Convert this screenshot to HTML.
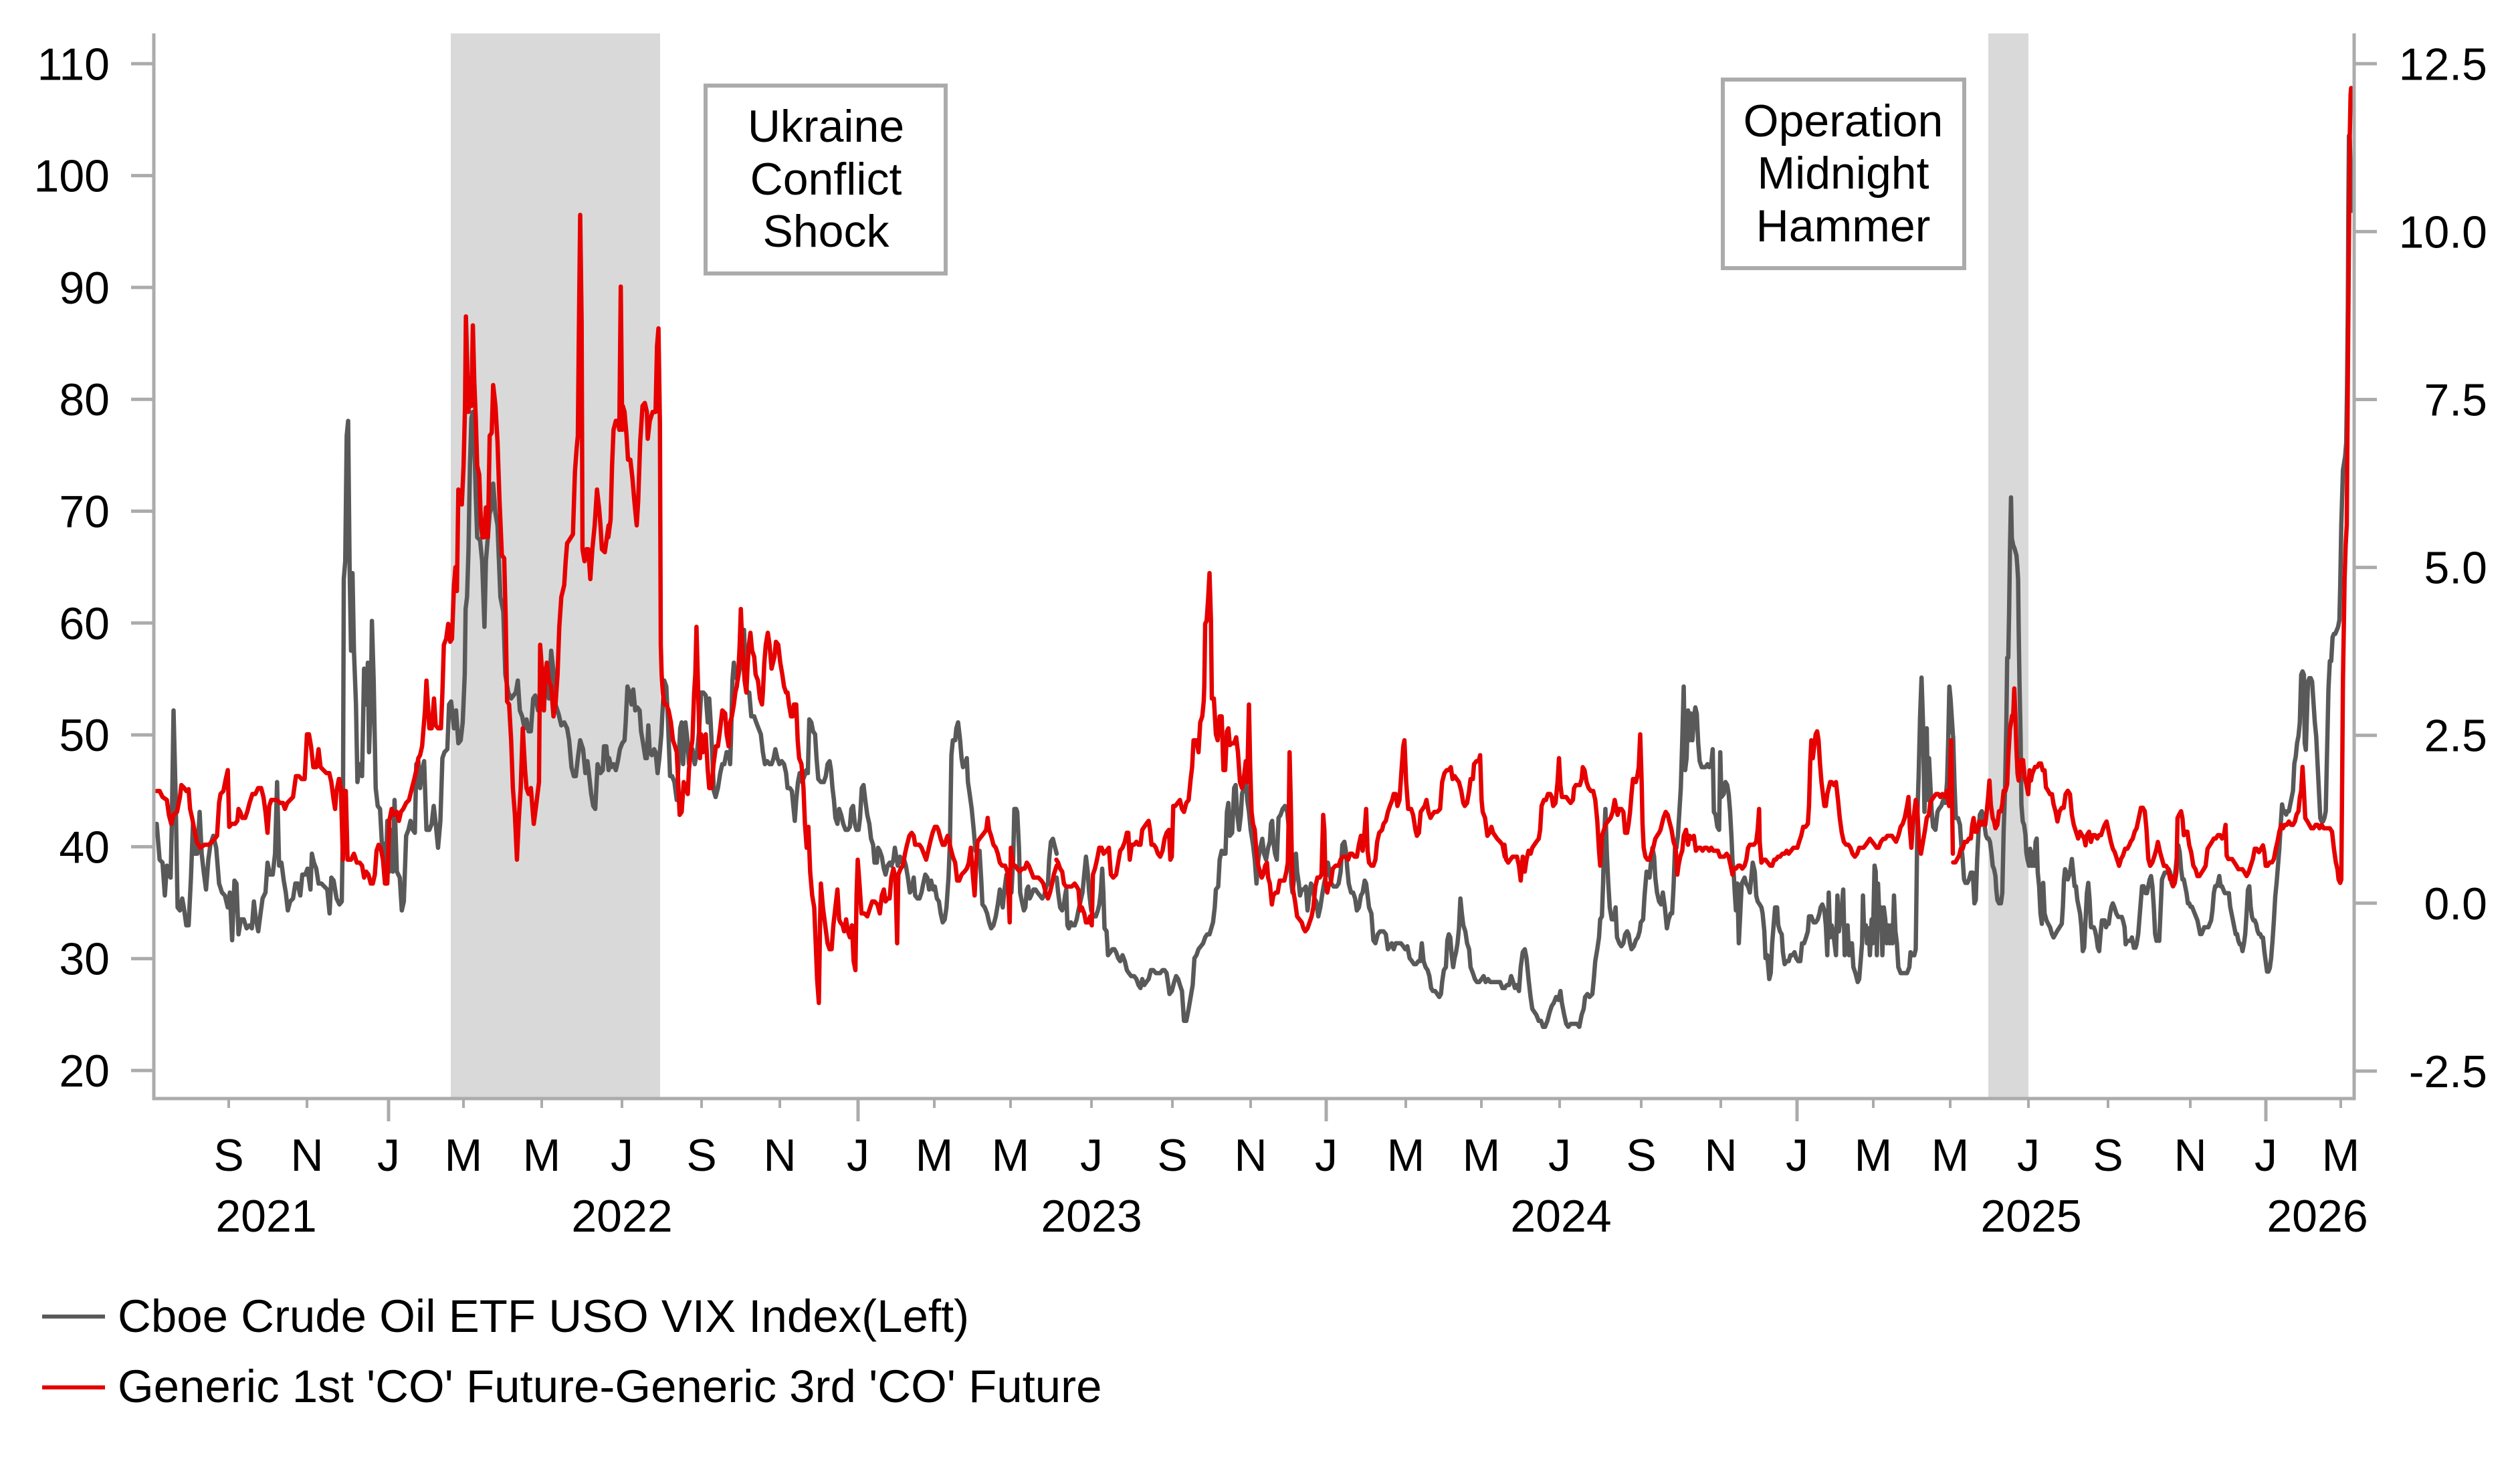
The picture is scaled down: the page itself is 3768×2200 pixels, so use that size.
<!DOCTYPE html>
<html>
<head>
<meta charset="utf-8">
<style>
html,body{margin:0;padding:0;background:#fff;}
svg{display:block;}
text{font-family:"Liberation Sans",Arial,sans-serif;fill:#000;}
</style>
</head>
<body>
<svg width="3768" height="2200" viewBox="0 0 3768 2200" xmlns="http://www.w3.org/2000/svg">
<rect x="0" y="0" width="3768" height="2200" fill="#fff"/>
<!-- shaded regions -->
<rect x="674" y="50" width="313" height="1593" fill="#d9d9d9"/>
<rect x="2973" y="50" width="60" height="1593" fill="#d9d9d9"/>

<g fill="none" stroke-linejoin="round" stroke-linecap="round">
<!-- GRAY SERIES -->
<g stroke="#595959">
<polyline vector-effect="non-scaling-stroke" stroke-width="6.5" transform="translate(230,250) scale(0.43367,0.89286)" points="10,1100 20,1160 30,1165 38,1220 45,1170 52,1185 58,1190 62,1100 68,910 75,1050 82,1240 90,1245 98,1225 105,1245 112,1270 120,1270 128,1190 135,1100 140,1150 150,1150 158,1080 165,1150 172,1180 180,1210 188,1160 195,1135 205,1120 215,1140 225,1200 235,1215 245,1220 255,1240 262,1215 270,1295 278,1195 285,1200 292,1285 300,1260 310,1260 320,1275 330,1270 338,1275 345,1230 352,1260 360,1280 368,1250 375,1225 385,1215 392,1165 400,1185 410,1185 418,1150 425,1030 432,1170 440,1165 448,1195 455,1215 462,1245 470,1230 480,1225 488,1200 496,1200 505,1220 512,1185 522,1185 530,1175 540,1210 545,1150 552,1165 560,1175 568,1200 578,1200 588,1205 598,1210 606,1250 612,1190 620,1195 630,1225 640,1235 648,1230 652,1100 655,690 660,660 665,450 670,425 675,670 680,810 685,680 690,810 697,900 702,1030 710,1000 718,1020 725,840 732,900 738,830 742,980 748,900 752,760 758,860 765,1040 772,1070 780,1075 786,1130 792,1135 800,1175 805,1095 812,1180 818,1110 824,1180 830,1060 838,1180 848,1190 855,1245 862,1230 870,1120 878,1110 885,1095 893,1110 900,1115 905,1000 912,995 918,1040 925,1010 932,995 940,1110 950,1110 958,1100 965,1070 972,1100 980,1140 988,1095 995,990 1002,980 1012,975 1018,900 1025,895 1035,940 1042,910 1050,965 1058,960 1065,930 1072,850 1075,740 1080,720 1085,640 1090,500 1095,420 1100,410 1105,460 1110,550 1115,620 1125,625 1132,660 1140,770 1145,660 1150,630 1158,580 1165,570 1170,530 1178,580 1185,600 1195,720 1205,745 1212,850 1222,880 1232,890 1240,885 1248,880 1255,860 1262,910 1270,920 1278,940 1285,925 1292,945 1300,945 1308,890 1315,885 1325,910 1335,900 1345,880 1355,865 1362,890 1370,810 1378,845 1385,900 1395,915 1405,935 1415,930 1425,940 1432,960 1440,1005 1448,1020 1455,1020 1462,990 1470,960 1480,975 1488,1015 1495,995 1500,1015 1508,1050 1515,1070 1522,1075 1530,1000 1540,1015 1548,1010 1552,970 1560,970 1568,1010"/>
<polyline vector-effect="non-scaling-stroke" stroke-width="6.5" transform="translate(900,250) scale(0.43367,0.89286)" points="25,990 32,1005 40,1000 48,1010 55,995 62,975 70,965 78,960 82,930 88,870 95,880 102,900 108,875 115,910 122,905 130,910 135,945 142,965 150,990 155,990 160,935 165,980 172,985 180,975 185,980 192,1015 198,990 205,950 210,900 215,860 222,870 228,930 235,1020 242,1020 250,1030 258,1060 265,990 270,940 275,930 280,1000 288,930 295,960 300,1000 305,975 312,975 320,1000 328,980 335,945 342,880 350,880 358,885 365,930 370,890 375,930 380,980 386,1045 392,1055 400,1040 408,1015 415,1000 422,1000 430,980 438,980 442,1000 445,960 450,860 455,830 460,850 468,860 475,840 480,820 485,810 490,775 495,840 500,880 508,880 515,920 525,920 532,930 540,940 548,950 555,980 562,1000 570,995 578,1000 585,1000 592,990 598,975 605,990 612,1000 620,995 628,1000 635,1015 640,1040 648,1040 655,1045 660,1070 665,1095 670,1060 676,1030 682,1015 690,1030 698,1020 705,1010 710,1015 715,925 722,930 728,945 735,950 740,990 746,1025 755,1030 765,1030 772,1020 778,1000 785,995 790,1010 795,1040 800,1060 805,1090 812,1100 818,1075 825,1085 832,1100 840,1110 848,1110 855,1105 860,1075 866,1070 872,1100 878,1110 885,1110 890,1090 896,1040 902,1035 908,1060 915,1085 922,1100 928,1125 935,1135 940,1165 948,1165 952,1140 958,1145 965,1155 972,1175 978,1185 985,1170 992,1165 998,1170 1005,1160 1010,1140 1015,1155 1020,1170 1028,1155 1035,1165 1042,1160 1048,1170 1055,1190 1062,1215 1068,1210 1075,1190 1080,1220 1088,1225 1095,1225 1102,1215 1108,1200 1115,1185 1122,1190 1128,1210 1135,1195 1142,1210 1148,1205 1155,1225 1162,1230 1168,1250 1175,1265 1182,1260 1188,1240 1195,1190 1200,1130 1205,985 1210,960 1218,960 1222,940 1228,930 1235,960 1240,990 1245,1005 1252,1000 1258,990 1262,1030 1268,1050 1275,1075 1282,1110 1288,1145 1295,1150 1302,1145 1308,1195 1312,1235 1320,1240 1328,1250 1335,1265 1342,1275 1350,1270 1358,1255 1365,1235 1372,1210 1378,1230 1382,1240 1388,1210 1395,1185 1402,1215 1408,1200 1412,1215 1418,1160 1422,1075 1428,1075 1432,1080 1438,1140 1442,1215 1448,1230 1455,1245 1460,1240 1465,1210 1470,1205 1475,1225 1480,1220 1488,1210 1495,1210 1502,1215 1510,1220 1518,1225 1525,1220 1532,1205 1538,1200 1542,1160 1548,1130 1555,1125 1560,1135 1568,1150"/>
<polyline vector-effect="non-scaling-stroke" stroke-width="6.5" transform="translate(1570,250) scale(0.43367,0.89286)" points="23,1190 28,1215 35,1240 42,1245 48,1235 52,1220 56,1210 60,1270 65,1275 72,1265 78,1270 85,1270 92,1260 98,1245 105,1230 112,1215 118,1185 124,1155 130,1180 135,1215 142,1245 150,1255 158,1255 165,1245 170,1235 175,1215 180,1175 184,1215 188,1275 195,1280 200,1320 208,1315 215,1310 222,1310 228,1315 235,1325 242,1330 250,1320 258,1330 265,1345 272,1350 280,1355 290,1355 298,1360 305,1370 312,1375 318,1360 325,1370 332,1365 340,1360 348,1345 356,1345 365,1350 372,1350 380,1350 388,1345 395,1345 402,1350 408,1370 412,1385 420,1380 428,1365 435,1355 442,1360 448,1370 455,1380 462,1430 470,1430 478,1410 485,1390 492,1370 498,1325 505,1320 512,1310 520,1305 528,1300 535,1290 542,1285 550,1285 556,1275 562,1265 568,1240 572,1210 580,1205 585,1160 592,1145 598,1150 605,1150 610,1080 615,1065 620,1120 628,1115 635,1040 640,1035 645,1080 652,1110 658,1085 662,1050 668,1040 675,1020 680,1060 686,1080 692,1110 700,1135 706,1160 712,1200 718,1160 725,1140 732,1125 738,1150 745,1160 752,1140 758,1130 762,1100 766,1095 770,1130 776,1150 782,1160 788,1090 795,1085 802,1075 810,1070 818,1080 824,1110 828,1150 832,1200 836,1215 842,1190 848,1150 852,1180 858,1200 862,1220 868,1210 875,1210 882,1205 888,1245 895,1215 900,1200 905,1205 912,1225 918,1230 925,1255 932,1240 938,1220 945,1200 952,1185 958,1165 965,1185 970,1200 978,1205 988,1205 995,1200 1002,1180 1008,1135 1015,1130 1020,1145 1025,1175 1030,1200 1038,1215 1045,1215 1052,1225 1058,1245 1065,1240 1072,1220 1078,1215 1085,1195 1090,1200 1095,1220 1100,1240 1108,1250 1115,1295 1122,1300 1130,1285 1138,1280 1150,1280 1158,1285 1165,1310 1172,1305 1178,1300 1185,1310 1192,1300 1200,1300 1210,1300 1218,1305 1225,1310 1232,1305 1240,1325 1248,1330 1255,1335 1262,1335 1270,1330 1276,1330 1282,1300 1288,1330 1295,1340 1302,1345 1308,1355 1314,1375 1320,1380 1328,1380 1335,1385 1342,1390 1348,1385 1352,1365 1358,1345 1365,1340 1370,1295 1375,1285 1380,1290 1385,1320 1390,1340 1395,1325 1400,1315 1405,1300 1410,1275 1415,1225 1420,1250 1425,1270 1432,1280 1438,1300 1445,1310 1450,1340 1458,1350 1465,1360 1472,1365 1480,1365 1488,1360 1495,1355 1502,1365 1510,1360 1518,1365 1525,1365 1535,1365 1545,1365 1552,1365 1560,1375 1568,1375"/>
<polyline vector-effect="non-scaling-stroke" stroke-width="6.5" transform="translate(2240,250) scale(0.43367,0.89286)" points="22,1375 30,1370 38,1370 45,1355 52,1365 58,1375 65,1370 72,1380 78,1340 85,1315 92,1310 98,1325 105,1360 112,1390 118,1410 125,1415 132,1420 140,1430 148,1430 155,1440 162,1440 170,1430 178,1415 185,1405 192,1400 200,1390 208,1395 215,1380 220,1400 228,1420 235,1435 242,1440 250,1435 258,1435 265,1435 272,1435 280,1440 288,1420 295,1410 300,1390 308,1385 315,1390 325,1385 330,1360 335,1330 342,1310 348,1290 352,1260 358,1255 362,1200 366,1120 370,1075 375,1150 380,1200 385,1240 392,1260 400,1260 405,1240 410,1290 418,1300 425,1305 432,1300 438,1285 445,1280 450,1285 455,1300 460,1310 468,1305 475,1295 482,1290 488,1280 492,1265 500,1260 505,1220 512,1180 518,1185 522,1190 528,1160 532,1140 538,1155 542,1190 548,1215 555,1230 562,1235 568,1215 575,1240 582,1275 588,1260 595,1250 600,1250 605,1205 610,1140 615,1140 620,1120 625,1080 630,1040 635,960 640,870 645,1010 650,990 655,910 660,960 665,915 670,960 675,925 680,905 685,915 690,965 695,995 702,1005 708,1005 715,1005 722,1000 728,1005 735,1000 740,975 744,1080 750,1085 756,1105 762,1110 766,980 770,1055 778,1050 784,1030 790,1035 795,1050 800,1080 805,1125 808,1160 812,1180 816,1215 820,1245 825,1200 830,1300 835,1250 840,1200 845,1195 850,1190 855,1200 862,1205 868,1215 872,1195 878,1165 885,1180 890,1220 895,1230 902,1235 908,1240 912,1250 918,1280 922,1325 928,1320 935,1360 940,1350 945,1300 950,1270 955,1240 962,1240 966,1270 972,1280 978,1285 982,1315 988,1335 995,1330 1002,1330 1008,1320 1015,1320 1022,1315 1028,1325 1035,1330 1042,1330 1048,1300 1055,1300 1062,1290 1068,1280 1072,1255 1080,1255 1088,1265 1095,1265 1102,1260 1108,1250 1112,1240 1118,1235 1125,1245 1130,1270 1135,1320 1140,1215 1145,1290 1150,1270 1155,1280 1160,1300 1165,1320 1170,1220 1175,1280 1180,1260 1185,1240 1190,1210 1195,1320 1200,1290 1205,1270 1210,1320 1215,1300 1220,1300 1225,1340 1232,1350 1240,1365 1245,1360 1250,1330 1255,1300 1258,1220 1262,1280 1268,1270 1272,1300 1278,1275 1282,1320 1288,1260 1292,1300 1298,1170 1302,1180 1306,1320 1310,1200 1315,1260 1320,1240 1325,1320 1330,1240 1335,1260 1340,1300 1345,1270 1350,1300 1355,1270 1360,1300 1365,1220 1370,1280 1375,1300 1380,1340 1388,1350 1395,1350 1402,1350 1410,1350 1418,1340 1422,1315 1428,1320 1435,1320 1440,1310 1443,1200 1446,1080 1450,1020 1455,920 1460,855 1465,930 1470,1080 1475,1000 1478,940 1482,1060 1486,990 1490,1030 1495,1080 1500,1105 1508,1110 1515,1080 1520,1075 1528,1070 1535,1060 1542,1065 1548,1030 1552,960 1556,870 1560,890 1568,950"/>
<polyline vector-effect="non-scaling-stroke" stroke-width="6.5" transform="translate(2900,50) scale(0.40816,1.02041)" points="50,1030 55,1100 60,1150 68,1150 75,1160 80,1190 85,1210 90,1240 95,1245 102,1245 108,1240 115,1230 122,1230 128,1275 133,1270 138,1210 143,1170 148,1145 155,1140 160,1145 165,1160 170,1175 175,1180 180,1180 185,1185 190,1200 195,1220 200,1225 205,1235 208,1255 212,1270 218,1275 225,1275 230,1260 235,1170 240,1110 245,1010 248,915 252,915 255,850 258,760 262,680 265,740 270,750 275,755 282,765 285,780 288,800 290,870 293,950 297,1030 300,1130 305,1155 310,1160 315,1175 318,1200 322,1210 328,1220 332,1195 338,1220 342,1200 348,1220 352,1185 356,1180 360,1230 365,1250 370,1290 375,1305 380,1245 385,1290 392,1300 398,1305 405,1310 412,1320 418,1325 425,1320 432,1315 440,1310 448,1305 452,1280 456,1240 460,1225 465,1230 470,1240 478,1230 485,1210 490,1230 495,1250 500,1250 505,1270 510,1280 515,1290 520,1310 525,1345 530,1340 535,1300 540,1260 545,1245 550,1270 555,1310 560,1310 565,1310 570,1315 575,1325 580,1340 585,1345 590,1320 595,1300 600,1300 605,1300 610,1310 615,1305 620,1305 625,1290 630,1280 635,1275 640,1280 648,1290 655,1295 662,1295 668,1295 672,1300 678,1310 682,1335 688,1330 695,1330 700,1330 705,1325 712,1340 718,1340 722,1335 728,1320 732,1300 738,1270 742,1250 748,1250 755,1260 760,1260 765,1250 770,1240 775,1235 780,1250 785,1280 790,1320 795,1330 800,1325 805,1330 810,1285 815,1240 820,1235 825,1230 832,1230 840,1225 845,1230 850,1245 855,1250 860,1240 865,1225 870,1205 875,1190 880,1200 885,1225 890,1240 895,1240 900,1250 905,1260 910,1275 915,1275 920,1280 925,1280 930,1285 935,1290 940,1295 945,1300 950,1310 955,1320 960,1320 965,1315 970,1310 975,1310 980,1310 985,1310 990,1305 995,1300 1000,1285 1005,1260 1010,1250 1015,1250 1020,1245 1025,1235 1030,1250 1035,1250 1040,1255 1045,1260 1050,1260 1055,1260 1060,1260 1065,1280 1070,1290 1075,1300 1080,1310 1085,1320 1090,1320 1095,1330 1100,1335 1105,1335 1110,1345 1115,1335 1120,1320 1125,1290 1130,1255 1135,1250 1140,1280 1145,1295 1150,1300 1155,1300 1160,1305 1165,1315 1170,1320 1175,1320 1180,1325 1185,1325 1190,1345 1195,1360 1200,1375 1205,1375 1210,1370 1215,1355 1220,1330 1225,1300 1230,1265 1235,1245 1240,1220 1245,1195 1250,1160 1255,1130 1260,1140 1265,1140 1270,1145 1275,1140 1280,1140 1285,1130 1290,1120 1295,1110 1300,1070 1305,1060 1310,1040 1315,1030 1320,1010 1325,940 1330,935 1335,940 1338,1040 1342,1050 1346,1000 1350,950 1355,945 1360,945 1365,950 1370,980 1375,1010 1380,1030 1385,1070 1390,1110 1395,1150 1400,1155 1405,1155 1410,1150 1415,1140 1420,1050 1425,960 1430,920 1435,920 1440,885 1445,880 1450,880 1455,875 1460,870 1465,860 1468,810 1472,720 1475,680 1478,640 1482,630 1486,620 1490,600 1493,520 1496,400 1498,250 1500,150 1503,155 1506,200 1509,260"/>
</g>

<!-- RED SERIES -->
<g stroke="#e60000">
<polyline vector-effect="non-scaling-stroke" stroke-width="6.5" transform="translate(230,250) scale(0.43367,0.89286)" points="10,1045 20,1045 30,1055 45,1060 52,1085 60,1100 68,1085 80,1080 90,1055 95,1035 105,1040 112,1045 120,1042 125,1075 132,1090 140,1110 148,1130 160,1140 175,1135 190,1135 200,1130 210,1125 218,1120 225,1065 230,1050 240,1045 248,1025 255,1010 260,1105 268,1100 280,1100 288,1095 292,1075 298,1080 305,1090 315,1090 322,1080 330,1065 340,1050 350,1050 360,1040 370,1040 378,1055 385,1080 392,1115 398,1070 405,1060 415,1060 425,1060 435,1065 445,1065 452,1075 460,1065 470,1060 480,1055 490,1020 500,1020 510,1025 520,1025 528,950 535,950 542,970 550,1005 560,1005 568,975 575,1005 585,1010 595,1015 605,1015 612,1030 620,1060 625,1075 630,1045 638,1025 640,1025 645,1040 652,1160 658,1045 662,1045 668,1160 680,1160 690,1150 700,1165 710,1165 718,1170 725,1190 732,1180 740,1185 748,1200 755,1200 762,1185 768,1145 775,1135 782,1140 790,1160 797,1200 805,1200 812,1095 820,1075 828,1085 838,1080 845,1095 852,1080 860,1075 870,1065 880,1060 890,1040 898,1025 905,1010 912,990 918,985 925,970 930,940 935,910 940,860 945,900 950,940 958,940 966,890 972,935 980,940 990,940 995,880 1000,800 1008,790 1015,765 1022,795 1028,790 1035,700 1040,670 1045,710 1050,540 1055,545 1062,565 1068,500 1073,400 1076,250 1080,320 1085,410 1090,360 1095,400 1100,265 1105,360 1110,420 1115,500 1122,515 1128,600 1133,620 1138,620 1145,570 1152,620 1158,450 1165,445 1170,365 1178,400 1185,460 1192,560 1200,650 1208,655 1213,750 1218,895 1225,900 1232,960 1238,1040 1245,1085 1252,1160 1258,1095 1265,1040 1272,940 1280,1010 1285,1040 1292,1050 1300,1040 1310,1100 1318,1070 1328,1030 1332,800 1338,840 1345,910 1350,850 1355,830 1362,860 1370,870 1378,920 1385,900 1392,850 1398,770 1405,720 1415,700 1420,660 1425,630 1432,625 1445,615 1452,510 1458,470 1462,450 1465,300 1470,80 1475,260 1478,640 1485,660 1492,640 1498,640 1505,690 1512,640 1520,600 1528,540 1535,570 1540,600 1545,640 1555,645 1562,620 1568,600"/>
<polyline vector-effect="non-scaling-stroke" stroke-width="6.5" transform="translate(900,250) scale(0.43367,0.89286)" points="22,620 30,590 35,500 40,440 48,425 55,425 60,440 65,200 70,440 72,400 78,410 85,450 90,490 98,490 105,520 112,560 120,600 125,560 132,460 140,400 148,395 155,410 158,455 165,425 175,410 185,410 190,300 195,270 200,430 203,800 206,850 210,880 215,900 222,900 230,910 238,930 245,960 252,970 258,980 262,1020 268,1085 275,1080 282,1030 290,1040 296,1050 300,1010 306,980 312,960 318,880 322,850 326,770 332,880 338,990 342,950 348,980 352,960 358,950 365,1010 370,1040 378,1040 385,1000 393,970 400,970 408,940 415,910 425,915 430,950 437,970 442,930 448,920 455,900 460,880 465,870 470,850 475,800 479,740 484,800 488,830 492,860 498,880 502,840 507,800 512,780 518,810 525,820 530,850 538,860 545,890 552,900 555,880 560,830 565,800 572,780 578,800 585,840 590,830 595,820 600,795 608,800 615,830 622,850 628,870 635,880 640,880 645,900 652,920 658,920 662,900 670,900 675,960 680,990 688,1000 695,1040 700,1100 706,1140 712,1105 718,1180 725,1220 732,1240 738,1310 742,1360 748,1400 752,1270 755,1200 762,1240 770,1270 778,1300 785,1310 792,1310 798,1270 805,1240 812,1210 818,1260 822,1265 830,1270 835,1280 842,1260 848,1280 855,1290 862,1270 868,1330 874,1345 878,1220 882,1160 888,1200 895,1250 905,1250 915,1255 925,1240 932,1230 940,1230 950,1235 958,1250 965,1220 972,1210 978,1230 985,1225 992,1225 998,1190 1005,1175 1012,1190 1018,1300 1022,1185 1030,1175 1038,1170 1045,1150 1052,1135 1060,1120 1068,1115 1075,1120 1080,1135 1088,1135 1095,1135 1102,1140 1110,1150 1118,1160 1125,1145 1132,1130 1140,1115 1148,1105 1155,1105 1160,1110 1168,1125 1175,1135 1182,1135 1188,1125 1192,1120 1198,1130 1202,1140 1210,1155 1218,1165 1225,1195 1232,1195 1240,1185 1250,1180 1258,1175 1265,1165 1272,1140 1278,1180 1285,1220 1290,1170 1295,1130 1302,1125 1310,1120 1318,1115 1325,1110 1330,1090 1335,1110 1342,1120 1350,1135 1358,1140 1365,1150 1372,1165 1380,1170 1390,1170 1398,1180 1402,1220 1406,1265 1410,1140 1418,1170 1425,1170 1432,1175 1440,1180 1450,1175 1458,1175 1465,1165 1472,1170 1480,1180 1488,1190 1495,1190 1505,1190 1515,1195 1522,1200 1530,1215 1538,1225 1545,1215 1552,1200 1558,1185 1568,1170"/>
<polyline vector-effect="non-scaling-stroke" stroke-width="6.5" transform="translate(1570,250) scale(0.43367,0.89286)" points="22,1160 28,1165 35,1175 42,1180 48,1200 55,1205 65,1205 75,1205 85,1200 92,1205 98,1210 104,1245 110,1240 118,1250 124,1265 132,1265 138,1255 144,1270 148,1185 155,1175 162,1160 170,1140 178,1140 185,1150 195,1145 203,1140 210,1185 218,1190 228,1185 235,1165 242,1145 250,1140 258,1130 265,1115 270,1115 275,1160 282,1135 290,1135 298,1130 305,1135 312,1135 318,1110 325,1105 332,1100 340,1095 345,1110 350,1135 358,1135 365,1140 372,1150 380,1155 388,1145 395,1125 402,1115 410,1110 415,1160 420,1155 425,1070 432,1070 440,1065 448,1060 455,1075 462,1080 470,1065 478,1060 485,1025 490,1005 495,960 505,960 512,980 518,930 525,920 530,895 532,870 535,765 540,760 545,725 550,680 555,760 558,890 565,890 572,950 578,960 585,920 592,920 598,1010 604,1010 610,945 615,940 620,968 628,965 635,965 642,955 648,980 655,1030 662,1040 668,1025 675,995 680,1030 686,900 690,1000 695,1080 700,1100 706,1110 712,1150 718,1170 724,1180 730,1190 735,1185 742,1170 748,1165 752,1190 758,1200 765,1235 770,1220 778,1215 785,1215 792,1195 800,1195 808,1195 815,1180 820,1165 824,1060 826,980 830,1060 834,1165 838,1210 845,1230 852,1255 860,1260 868,1265 874,1275 880,1280 888,1275 895,1265 902,1255 908,1240 915,1205 922,1190 930,1190 936,1185 942,1085 946,1110 950,1200 956,1215 962,1200 968,1200 975,1175 985,1170 995,1170 1002,1160 1010,1155 1020,1155 1028,1160 1035,1150 1042,1150 1050,1155 1058,1155 1065,1135 1072,1120 1078,1145 1085,1110 1090,1075 1095,1145 1100,1165 1108,1170 1115,1170 1122,1160 1128,1130 1135,1115 1145,1110 1150,1100 1158,1095 1165,1080 1172,1070 1180,1060 1185,1050 1192,1050 1198,1070 1205,1060 1212,1010 1218,970 1222,960 1228,1030 1235,1075 1245,1075 1252,1085 1260,1110 1265,1120 1272,1115 1278,1080 1285,1075 1292,1070 1298,1060 1305,1080 1312,1090 1318,1085 1325,1080 1335,1080 1345,1075 1352,1030 1360,1015 1368,1010 1375,1010 1382,1005 1388,1025 1395,1020 1402,1025 1410,1030 1418,1045 1425,1065 1430,1070 1438,1065 1445,1045 1450,1025 1458,1025 1462,1000 1470,995 1478,995 1483,985 1488,1060 1492,1080 1500,1090 1508,1120 1515,1115 1522,1105 1528,1115 1535,1120 1542,1125 1552,1130 1560,1135 1568,1155"/>
<polyline vector-effect="non-scaling-stroke" stroke-width="6.5" transform="translate(2240,250) scale(0.43367,0.89286)" points="22,1135 28,1160 35,1165 42,1160 50,1155 58,1155 65,1155 72,1170 78,1195 85,1155 92,1180 98,1160 105,1145 112,1150 118,1140 125,1135 132,1130 140,1125 145,1110 150,1070 158,1060 165,1060 172,1050 180,1050 185,1055 190,1070 198,1065 205,1030 210,990 215,1035 220,1055 228,1055 235,1055 242,1060 250,1065 258,1060 262,1040 268,1035 275,1035 282,1035 288,1025 292,1005 298,1010 305,1030 312,1040 320,1045 328,1045 335,1060 342,1095 348,1145 352,1170 358,1120 365,1110 372,1100 380,1095 388,1090 395,1080 402,1060 408,1075 412,1085 418,1075 425,1075 432,1080 438,1115 445,1115 450,1100 455,1080 460,1050 465,1025 470,1025 475,1030 480,1020 485,1005 490,950 495,1030 498,1100 502,1140 508,1155 515,1160 522,1160 528,1150 535,1140 542,1125 548,1120 555,1115 560,1110 565,1100 570,1090 578,1080 585,1085 590,1095 598,1110 605,1130 612,1140 618,1185 622,1170 628,1155 635,1145 640,1120 648,1110 655,1135 660,1120 668,1125 675,1120 682,1145 690,1140 698,1140 705,1145 712,1140 720,1140 728,1145 735,1140 742,1145 750,1145 758,1145 765,1155 772,1155 780,1155 788,1150 795,1155 802,1170 808,1185 812,1175 820,1175 828,1170 835,1170 842,1175 850,1170 856,1160 862,1140 868,1135 875,1135 882,1135 890,1130 895,1110 900,1075 902,1130 908,1165 915,1160 922,1160 930,1165 938,1170 945,1170 952,1160 958,1160 965,1155 972,1155 980,1150 988,1150 995,1145 1002,1150 1010,1145 1018,1140 1025,1140 1032,1140 1038,1130 1045,1120 1052,1105 1060,1105 1068,1100 1072,1070 1076,1000 1080,960 1085,990 1090,970 1095,950 1100,945 1105,960 1110,1000 1115,1030 1120,1050 1125,1070 1130,1070 1135,1050 1140,1040 1145,1030 1150,1030 1158,1035 1165,1030 1172,1060 1178,1090 1185,1115 1192,1130 1200,1135 1208,1135 1215,1140 1222,1150 1230,1155 1238,1150 1245,1140 1252,1140 1260,1140 1268,1135 1275,1130 1282,1125 1290,1130 1298,1135 1305,1140 1312,1140 1320,1130 1328,1125 1335,1125 1342,1120 1350,1120 1358,1120 1365,1125 1372,1130 1380,1120 1388,1105 1395,1100 1402,1090 1410,1070 1415,1055 1420,1110 1425,1140 1430,1100 1435,1080 1440,1060 1445,1070 1452,1140 1458,1150 1465,1130 1472,1110 1478,1090 1485,1085 1490,1065 1495,1060 1502,1055 1510,1050 1518,1050 1525,1055 1532,1050 1540,1055 1548,1045 1555,1070 1562,960 1568,1150"/>
<polyline vector-effect="non-scaling-stroke" stroke-width="6.5" transform="translate(2900,50) scale(0.40816,1.02041)" points="50,1215 58,1215 65,1210 72,1205 78,1195 85,1195 92,1185 100,1185 108,1180 115,1180 120,1160 125,1150 130,1170 138,1170 145,1155 152,1160 160,1155 168,1160 172,1145 178,1120 183,1095 188,1130 195,1150 200,1155 205,1165 212,1160 218,1140 225,1140 230,1130 235,1110 242,1110 248,1100 252,1060 258,1020 262,1010 266,1000 270,1000 274,960 278,1000 282,1050 286,1085 290,1095 295,1080 300,1065 306,1065 312,1090 318,1100 325,1115 330,1080 335,1095 340,1085 345,1080 350,1075 358,1075 365,1070 372,1070 378,1080 385,1080 390,1105 398,1110 405,1115 412,1115 418,1130 425,1140 432,1155 440,1140 448,1135 455,1135 462,1115 470,1110 478,1115 485,1145 492,1160 500,1170 508,1180 515,1170 522,1175 530,1180 535,1190 540,1175 548,1170 555,1185 562,1175 570,1175 578,1180 585,1175 592,1175 600,1165 605,1160 612,1155 620,1170 628,1185 635,1195 642,1200 650,1210 658,1220 665,1210 672,1205 680,1195 688,1195 695,1190 700,1185 708,1180 715,1170 722,1165 730,1150 738,1135 745,1135 752,1140 758,1165 765,1210 772,1220 780,1215 788,1205 795,1195 800,1185 808,1200 815,1210 822,1220 830,1220 838,1225 845,1240 850,1235 856,1250 862,1245 868,1230 872,1150 878,1145 885,1140 890,1150 895,1175 900,1170 908,1170 915,1190 922,1200 930,1220 938,1225 945,1235 952,1235 960,1230 968,1225 975,1220 982,1195 990,1190 998,1185 1005,1180 1012,1180 1020,1175 1028,1175 1035,1180 1042,1175 1048,1160 1052,1205 1058,1210 1065,1210 1072,1210 1080,1215 1088,1220 1095,1225 1102,1225 1110,1225 1118,1230 1125,1235 1132,1230 1140,1220 1148,1210 1155,1195 1162,1195 1170,1200 1178,1195 1185,1190 1190,1200 1195,1220 1202,1220 1210,1215 1218,1215 1225,1210 1232,1195 1238,1185 1245,1170 1252,1160 1258,1165 1265,1160 1272,1160 1280,1155 1288,1160 1295,1160 1302,1155 1308,1145 1315,1140 1320,1120 1325,1110 1330,1075 1335,1110 1340,1150 1348,1155 1355,1160 1362,1165 1370,1165 1378,1160 1385,1160 1392,1165 1400,1160 1408,1165 1415,1165 1422,1165 1430,1165 1438,1170 1445,1195 1452,1215 1458,1225 1462,1240 1468,1245 1472,1240 1475,1100 1478,950 1480,900 1484,800 1488,750 1492,720 1496,500 1500,300 1503,150 1506,90 1508,80"/>
</g>
</g>

<!-- annotation boxes -->
<rect x="1055" y="128" width="359" height="281" fill="#fff" stroke="#ababab" stroke-width="6"/>
<text x="1235" y="212" font-size="68" text-anchor="middle">Ukraine</text>
<text x="1235" y="291" font-size="68" text-anchor="middle">Conflict</text>
<text x="1235" y="369" font-size="68" text-anchor="middle">Shock</text>

<rect x="2576" y="119" width="361" height="282" fill="#fff" stroke="#ababab" stroke-width="6"/>
<text x="2756" y="204" font-size="68" text-anchor="middle">Operation</text>
<text x="2756" y="282" font-size="68" text-anchor="middle">Midnight</text>
<text x="2756" y="361" font-size="68" text-anchor="middle">Hammer</text>

<!-- axes -->
<g stroke="#ababab" stroke-width="5" fill="none">
<line x1="230" y1="50" x2="230" y2="1645.5"/>
<line x1="3520" y1="50" x2="3520" y2="1645.5"/>
<line x1="227.5" y1="1643" x2="3522.5" y2="1643"/>
<line x1="196" y1="95.3" x2="230" y2="95.3"/>
<line x1="196" y1="262.6" x2="230" y2="262.6"/>
<line x1="196" y1="429.9" x2="230" y2="429.9"/>
<line x1="196" y1="597.2" x2="230" y2="597.2"/>
<line x1="196" y1="764.5" x2="230" y2="764.5"/>
<line x1="196" y1="931.8" x2="230" y2="931.8"/>
<line x1="196" y1="1099.1" x2="230" y2="1099.1"/>
<line x1="196" y1="1266.4" x2="230" y2="1266.4"/>
<line x1="196" y1="1433.7" x2="230" y2="1433.7"/>
<line x1="196" y1="1601" x2="230" y2="1601"/>
<line x1="3520" y1="95.3" x2="3554" y2="95.3"/>
<line x1="3520" y1="346.4" x2="3554" y2="346.4"/>
<line x1="3520" y1="597.5" x2="3554" y2="597.5"/>
<line x1="3520" y1="848.6" x2="3554" y2="848.6"/>
<line x1="3520" y1="1099.7" x2="3554" y2="1099.7"/>
<line x1="3520" y1="1350.8" x2="3554" y2="1350.8"/>
<line x1="3520" y1="1601.9" x2="3554" y2="1601.9"/>
</g>
<g stroke="#ababab" stroke-width="4" fill="none">
<line x1="342" y1="1643" x2="342" y2="1657"/>
<line x1="459" y1="1643" x2="459" y2="1657"/>
<line x1="693" y1="1643" x2="693" y2="1657"/>
<line x1="810" y1="1643" x2="810" y2="1657"/>
<line x1="930" y1="1643" x2="930" y2="1657"/>
<line x1="1049" y1="1643" x2="1049" y2="1657"/>
<line x1="1166" y1="1643" x2="1166" y2="1657"/>
<line x1="1397" y1="1643" x2="1397" y2="1657"/>
<line x1="1511" y1="1643" x2="1511" y2="1657"/>
<line x1="1632" y1="1643" x2="1632" y2="1657"/>
<line x1="1753" y1="1643" x2="1753" y2="1657"/>
<line x1="1870" y1="1643" x2="1870" y2="1657"/>
<line x1="2102" y1="1643" x2="2102" y2="1657"/>
<line x1="2215" y1="1643" x2="2215" y2="1657"/>
<line x1="2332" y1="1643" x2="2332" y2="1657"/>
<line x1="2454" y1="1643" x2="2454" y2="1657"/>
<line x1="2573" y1="1643" x2="2573" y2="1657"/>
<line x1="2801" y1="1643" x2="2801" y2="1657"/>
<line x1="2916" y1="1643" x2="2916" y2="1657"/>
<line x1="3033" y1="1643" x2="3033" y2="1657"/>
<line x1="3152" y1="1643" x2="3152" y2="1657"/>
<line x1="3275" y1="1643" x2="3275" y2="1657"/>
<line x1="3500" y1="1643" x2="3500" y2="1657"/>
</g>
<g stroke="#ababab" stroke-width="5" fill="none">
<line x1="581" y1="1643" x2="581" y2="1677"/>
<line x1="1283" y1="1643" x2="1283" y2="1677"/>
<line x1="1983" y1="1643" x2="1983" y2="1677"/>
<line x1="2687" y1="1643" x2="2687" y2="1677"/>
<line x1="3388" y1="1643" x2="3388" y2="1677"/>
</g>

<!-- left labels -->
<g font-size="68" text-anchor="end">
<text x="164" y="119.3">110</text>
<text x="164" y="286.6">100</text>
<text x="164" y="453.9">90</text>
<text x="164" y="621.2">80</text>
<text x="164" y="788.5">70</text>
<text x="164" y="955.8">60</text>
<text x="164" y="1123.1">50</text>
<text x="164" y="1290.4">40</text>
<text x="164" y="1457.7">30</text>
<text x="164" y="1625">20</text>
</g>
<!-- right labels -->
<g font-size="68" text-anchor="end">
<text x="3719" y="119.3">12.5</text>
<text x="3719" y="370.4">10.0</text>
<text x="3719" y="621.5">7.5</text>
<text x="3719" y="872.6">5.0</text>
<text x="3719" y="1123.7">2.5</text>
<text x="3719" y="1374.8">0.0</text>
<text x="3719" y="1625.9">-2.5</text>
</g>
<!-- month labels -->
<g font-size="68" text-anchor="middle">
<text x="342" y="1751">S</text>
<text x="459" y="1751">N</text>
<text x="581" y="1751">J</text>
<text x="693" y="1751">M</text>
<text x="810" y="1751">M</text>
<text x="930" y="1751">J</text>
<text x="1049" y="1751">S</text>
<text x="1166" y="1751">N</text>
<text x="1283" y="1751">J</text>
<text x="1397" y="1751">M</text>
<text x="1511" y="1751">M</text>
<text x="1632" y="1751">J</text>
<text x="1753" y="1751">S</text>
<text x="1870" y="1751">N</text>
<text x="1983" y="1751">J</text>
<text x="2102" y="1751">M</text>
<text x="2215" y="1751">M</text>
<text x="2332" y="1751">J</text>
<text x="2454" y="1751">S</text>
<text x="2573" y="1751">N</text>
<text x="2687" y="1751">J</text>
<text x="2801" y="1751">M</text>
<text x="2916" y="1751">M</text>
<text x="3033" y="1751">J</text>
<text x="3152" y="1751">S</text>
<text x="3275" y="1751">N</text>
<text x="3388" y="1751">J</text>
<text x="3500" y="1751">M</text>
</g>
<!-- year labels -->
<g font-size="68" text-anchor="middle">
<text x="398" y="1842">2021</text>
<text x="930" y="1842">2022</text>
<text x="1632" y="1842">2023</text>
<text x="2334" y="1842">2024</text>
<text x="3037" y="1842">2025</text>
<text x="3465" y="1842">2026</text>
</g>

<!-- legend -->
<line x1="63" y1="1969" x2="157" y2="1969" stroke="#595959" stroke-width="6"/>
<text x="176" y="1992" font-size="69">Cboe Crude Oil ETF USO VIX Index(Left)</text>
<line x1="63" y1="2075" x2="157" y2="2075" stroke="#e60000" stroke-width="6"/>
<text x="176" y="2097" font-size="69">Generic 1st 'CO' Future-Generic 3rd 'CO' Future</text>
</svg>
</body>
</html>
